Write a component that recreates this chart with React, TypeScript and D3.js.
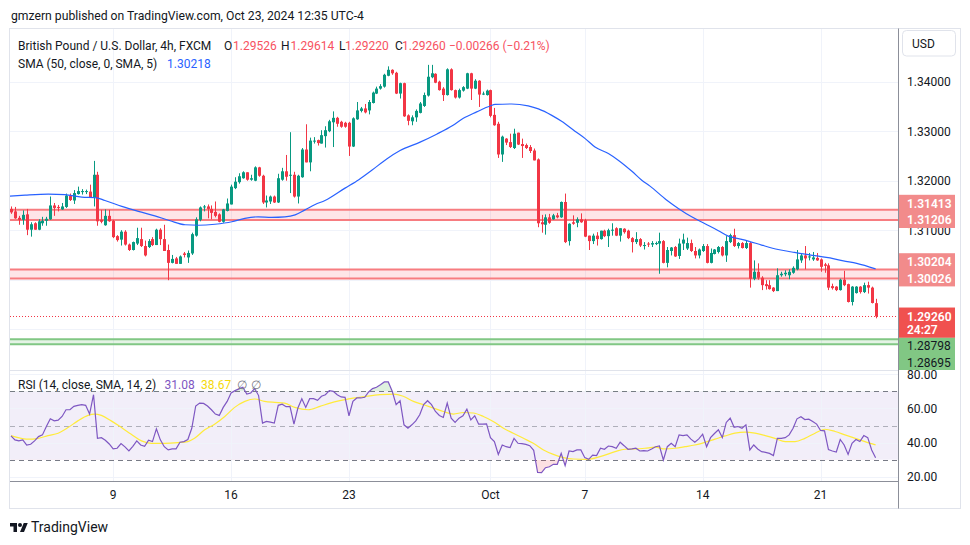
import React from "react";
import * as d3 from "d3";

// ---------- data (GBP/USD 4h, FXCM) ----------
const OPEN = [
  1.3143, 1.3138, 1.3125, 1.3121, 1.3132, 1.3101, 1.3114, 1.3101, 1.3114, 1.3119,
  1.3122, 1.3150, 1.3147, 1.3142, 1.3147, 1.3169, 1.3160, 1.3173, 1.3177, 1.3177,
  1.3178, 1.3167, 1.3212, 1.3121, 1.3110, 1.3129, 1.3119, 1.3088, 1.3081, 1.3097,
  1.3071, 1.3060, 1.3073, 1.3082, 1.3068, 1.3066, 1.3082, 1.3070, 1.3101, 1.3082,
  1.3060, 1.3034, 1.3043, 1.3032, 1.3053, 1.3045, 1.3053, 1.3089, 1.3121, 1.3146,
  1.3148, 1.3143, 1.3137, 1.3132, 1.3117, 1.3139, 1.3152, 1.3185, 1.3197, 1.3205,
  1.3217, 1.3202, 1.3200, 1.3227, 1.3210, 1.3156, 1.3158, 1.3168, 1.3156, 1.3202,
  1.3219, 1.3211, 1.3212, 1.3168, 1.3207, 1.3263, 1.3237, 1.3279, 1.3282, 1.3275,
  1.3290, 1.3300, 1.3318, 1.3327, 1.3319, 1.3317, 1.3317, 1.3269, 1.3324, 1.3341,
  1.3346, 1.3342, 1.3357, 1.3376, 1.3386, 1.3390, 1.3412, 1.3424, 1.3418, 1.3376,
  1.3397, 1.3332, 1.3320, 1.3328, 1.3337, 1.3351, 1.3372, 1.3409, 1.3416, 1.3400,
  1.3386, 1.3373, 1.3425, 1.3383, 1.3368, 1.3382, 1.3386, 1.3417, 1.3386, 1.3402,
  1.3374, 1.3373, 1.3383, 1.3333, 1.3315, 1.3253, 1.3285, 1.3278, 1.3266, 1.3297,
  1.3274, 1.3272, 1.3268, 1.3261, 1.3243, 1.3116, 1.3111, 1.3126, 1.3122, 1.3130,
  1.3126, 1.3157, 1.3078, 1.3116, 1.3115, 1.3122, 1.3120, 1.3089, 1.3078, 1.3089,
  1.3082, 1.3099, 1.3088, 1.3100, 1.3104, 1.3089, 1.3103, 1.3099, 1.3084, 1.3076,
  1.3082, 1.3068, 1.3073, 1.3071, 1.3072, 1.3073, 1.3078, 1.3034, 1.3058, 1.3066,
  1.3048, 1.3073, 1.3063, 1.3074, 1.3058, 1.3049, 1.3058, 1.3068, 1.3034, 1.3052,
  1.3056, 1.3066, 1.3049, 1.3076, 1.3090, 1.3068, 1.3074, 1.3064, 1.3074, 1.3002,
  1.3016, 1.3004, 1.2991, 1.2989, 1.2984, 1.2977, 1.3009, 1.3011, 1.3009, 1.3014,
  1.3021, 1.3039, 1.3049, 1.3045, 1.3041, 1.3044, 1.3041, 1.3031, 1.3029, 1.2987,
  1.2986, 1.2979, 1.3000, 1.2991, 1.2955, 1.2973, 1.2986, 1.2975, 1.2989, 1.2984, 1.29526,
];
const HIGH = [
  1.3148, 1.3147, 1.3129, 1.3140, 1.3143, 1.3116, 1.3116, 1.3122, 1.3127, 1.3127,
  1.3168, 1.3155, 1.3151, 1.3155, 1.3174, 1.3174, 1.3181, 1.3188, 1.3183, 1.3182,
  1.3192, 1.3240, 1.3218, 1.3141, 1.3142, 1.3141, 1.3121, 1.3090, 1.3100, 1.3100,
  1.3073, 1.3077, 1.3105, 1.3105, 1.3079, 1.3082, 1.3086, 1.3103, 1.3104, 1.3111,
  1.3071, 1.3050, 1.3046, 1.3049, 1.3056, 1.3059, 1.3095, 1.3126, 1.3148, 1.3151,
  1.3152, 1.3150, 1.3158, 1.3134, 1.3143, 1.3164, 1.3192, 1.3207, 1.3215, 1.3219,
  1.3217, 1.3212, 1.3229, 1.3228, 1.3212, 1.3170, 1.3170, 1.3170, 1.3214, 1.3226,
  1.3252, 1.3298, 1.3218, 1.3212, 1.3266, 1.3314, 1.3287, 1.3288, 1.3283, 1.3302,
  1.3310, 1.3323, 1.3340, 1.3329, 1.3321, 1.3319, 1.3319, 1.3328, 1.3359, 1.3349,
  1.3355, 1.3363, 1.3380, 1.3390, 1.3395, 1.3416, 1.3431, 1.3425, 1.3420, 1.3398,
  1.3398, 1.3334, 1.3332, 1.3344, 1.3359, 1.3378, 1.3434, 1.3434, 1.3417, 1.3402,
  1.3389, 1.3427, 1.3427, 1.3384, 1.3386, 1.3391, 1.3418, 1.3418, 1.3405, 1.3403,
  1.3380, 1.3384, 1.3384, 1.3347, 1.3319, 1.3291, 1.3286, 1.3295, 1.3305, 1.3297,
  1.3285, 1.3275, 1.3272, 1.3265, 1.3245, 1.3131, 1.3132, 1.3133, 1.3133, 1.3135,
  1.3158, 1.3174, 1.3114, 1.3130, 1.3126, 1.3134, 1.3123, 1.3089, 1.3093, 1.3096,
  1.3099, 1.3101, 1.3103, 1.3114, 1.3106, 1.3104, 1.3104, 1.3101, 1.3086, 1.3096,
  1.3084, 1.3076, 1.3076, 1.3078, 1.3077, 1.3095, 1.3080, 1.3066, 1.3066, 1.3068,
  1.3083, 1.3093, 1.3085, 1.3081, 1.3066, 1.3063, 1.3072, 1.3072, 1.3063, 1.3062,
  1.3068, 1.3068, 1.3088, 1.3093, 1.3103, 1.3076, 1.3076, 1.3080, 1.3076, 1.3039,
  1.3033, 1.3007, 1.2999, 1.2999, 1.2985, 1.3023, 1.3016, 1.3019, 1.3021, 1.3027,
  1.3060, 1.3054, 1.3068, 1.3054, 1.3056, 1.3054, 1.3043, 1.3034, 1.3033, 1.2992,
  1.2987, 1.3002, 1.3018, 1.2992, 1.2987, 1.2987, 1.2987, 1.2994, 1.2996, 1.2986, 1.29614,
];
const LOW = [
  1.3133, 1.3123, 1.3111, 1.3111, 1.3090, 1.3087, 1.3101, 1.3100, 1.3109, 1.3109,
  1.3121, 1.3129, 1.3138, 1.3141, 1.3145, 1.3159, 1.3153, 1.3172, 1.3172, 1.3173,
  1.3166, 1.3148, 1.3109, 1.3114, 1.3109, 1.3117, 1.3084, 1.3077, 1.3069, 1.3069,
  1.3058, 1.3059, 1.3070, 1.3066, 1.3047, 1.3064, 1.3068, 1.3070, 1.3070, 1.3058,
  1.2999, 1.3033, 1.3032, 1.3032, 1.3045, 1.3034, 1.3050, 1.3087, 1.3118, 1.3138,
  1.3124, 1.3122, 1.3126, 1.3116, 1.3115, 1.3138, 1.3152, 1.3183, 1.3194, 1.3204,
  1.3200, 1.3200, 1.3199, 1.3208, 1.3153, 1.3146, 1.3153, 1.3155, 1.3155, 1.3200,
  1.3200, 1.3175, 1.3166, 1.3154, 1.3206, 1.3237, 1.3219, 1.3275, 1.3271, 1.3275,
  1.3267, 1.3298, 1.3268, 1.3309, 1.3307, 1.3307, 1.3250, 1.3268, 1.3323, 1.3338,
  1.3336, 1.3334, 1.3356, 1.3375, 1.3384, 1.3388, 1.3411, 1.3414, 1.3375, 1.3366,
  1.3329, 1.3312, 1.3312, 1.3319, 1.3336, 1.3349, 1.3370, 1.3407, 1.3397, 1.3382,
  1.3361, 1.3372, 1.3382, 1.3366, 1.3366, 1.3380, 1.3385, 1.3363, 1.3385, 1.3349,
  1.3373, 1.3372, 1.3328, 1.3311, 1.3246, 1.3238, 1.3272, 1.3266, 1.3264, 1.3272,
  1.3246, 1.3264, 1.3256, 1.3241, 1.3106, 1.3095, 1.3091, 1.3113, 1.3121, 1.3124,
  1.3125, 1.3074, 1.3069, 1.3111, 1.3106, 1.3115, 1.3086, 1.3060, 1.3072, 1.3069,
  1.3081, 1.3086, 1.3066, 1.3089, 1.3088, 1.3077, 1.3093, 1.3082, 1.3055, 1.3072,
  1.3066, 1.3061, 1.3066, 1.3066, 1.3070, 1.3012, 1.3033, 1.3025, 1.3049, 1.3046,
  1.3042, 1.3060, 1.3060, 1.3056, 1.3043, 1.3043, 1.3056, 1.3033, 1.3033, 1.3051,
  1.3053, 1.3047, 1.3036, 1.3074, 1.3066, 1.3063, 1.3063, 1.3062, 1.2984, 1.2999,
  1.3000, 1.2979, 1.2980, 1.2980, 1.2975, 1.2977, 1.3006, 1.3007, 1.3001, 1.3012,
  1.3019, 1.3034, 1.3021, 1.3039, 1.3038, 1.3038, 1.3016, 1.3014, 1.2979, 1.2980,
  1.2977, 1.2978, 1.2987, 1.2954, 1.2948, 1.2972, 1.2972, 1.2973, 1.2972, 1.2952, 1.29220,
];
const CLOSE = [
  1.3136, 1.3124, 1.3121, 1.3131, 1.3101, 1.3112, 1.3101, 1.3118, 1.3119, 1.3123,
  1.3150, 1.3145, 1.3145, 1.3148, 1.3170, 1.3161, 1.3175, 1.3179, 1.3179, 1.3179,
  1.3167, 1.3212, 1.3118, 1.3117, 1.3129, 1.3118, 1.3086, 1.3080, 1.3097, 1.3071,
  1.3060, 1.3076, 1.3084, 1.3068, 1.3049, 1.3078, 1.3070, 1.3101, 1.3082, 1.3058,
  1.3034, 1.3042, 1.3032, 1.3047, 1.3050, 1.3054, 1.3092, 1.3122, 1.3146, 1.3148,
  1.3143, 1.3135, 1.3129, 1.3117, 1.3142, 1.3154, 1.3188, 1.3198, 1.3209, 1.3217,
  1.3202, 1.3205, 1.3227, 1.3210, 1.3156, 1.3160, 1.3168, 1.3156, 1.3205, 1.3219,
  1.3208, 1.3212, 1.3168, 1.3210, 1.3263, 1.3237, 1.3281, 1.3281, 1.3276, 1.3292,
  1.3302, 1.3320, 1.3327, 1.3315, 1.3309, 1.3309, 1.3269, 1.3326, 1.3342, 1.3346,
  1.3338, 1.3359, 1.3378, 1.3386, 1.3391, 1.3414, 1.3424, 1.3417, 1.3376, 1.3397,
  1.3330, 1.3321, 1.3328, 1.3341, 1.3356, 1.3373, 1.3410, 1.3417, 1.3398, 1.3383,
  1.3373, 1.3425, 1.3383, 1.3368, 1.3383, 1.3389, 1.3417, 1.3386, 1.3402, 1.3374,
  1.3376, 1.3382, 1.3331, 1.3312, 1.3253, 1.3289, 1.3277, 1.3268, 1.3295, 1.3273,
  1.3270, 1.3266, 1.3260, 1.3241, 1.3114, 1.3112, 1.3126, 1.3115, 1.3130, 1.3126,
  1.3157, 1.3076, 1.3113, 1.3113, 1.3122, 1.3116, 1.3087, 1.3078, 1.3089, 1.3082,
  1.3099, 1.3088, 1.3100, 1.3101, 1.3089, 1.3104, 1.3096, 1.3084, 1.3076, 1.3082,
  1.3069, 1.3070, 1.3071, 1.3074, 1.3074, 1.3078, 1.3034, 1.3060, 1.3065, 1.3047,
  1.3073, 1.3081, 1.3074, 1.3058, 1.3049, 1.3061, 1.3068, 1.3034, 1.3054, 1.3061,
  1.3066, 1.3049, 1.3078, 1.3090, 1.3068, 1.3074, 1.3064, 1.3074, 1.3002, 1.3016,
  1.3004, 1.2989, 1.2987, 1.2981, 1.2977, 1.3009, 1.3012, 1.3014, 1.3016, 1.3024,
  1.3041, 1.3049, 1.3043, 1.3047, 1.3045, 1.3039, 1.3026, 1.3028, 1.2984, 1.2983,
  1.2979, 1.3000, 1.2989, 1.2955, 1.2986, 1.2986, 1.2975, 1.2989, 1.2984, 1.2953, 1.29260,
];

// RSI(14) per bar
const RSI = [
  43.9, 41.6, 41.0, 41.6, 38.6, 39.0, 41.0, 43.5, 44.5, 49.4,
  53.9, 52.7, 53.1, 55.3, 59.2, 59.2, 61.2, 61.8, 62.2, 61.8,
  56.7, 68.0, 42.5, 42.9, 41.4, 39.2, 36.3, 36.7, 39.4, 37.5,
  35.1, 37.8, 41.0, 38.6, 37.8, 41.4, 40.6, 48.0, 41.6, 37.6,
  35.7, 36.3, 36.3, 40.2, 40.6, 41.8, 48.4, 61.4, 63.1, 62.9,
  61.4, 59.2, 56.7, 55.9, 60.6, 64.1, 69.0, 70.4, 71.4, 72.4,
  68.4, 69.0, 71.6, 67.5, 51.4, 52.4, 52.0, 51.4, 61.8, 62.5,
  61.0, 61.0, 50.8, 60.2, 65.7, 60.6, 65.7, 65.7, 64.7, 67.1,
  68.0, 70.4, 70.0, 68.0, 66.7, 66.5, 55.7, 64.1, 66.1, 66.1,
  66.5, 69.6, 71.6, 72.4, 73.9, 75.5, 75.5, 70.0, 62.2, 64.5,
  50.4, 48.4, 50.4, 52.7, 56.3, 62.2, 64.5, 62.2, 58.2, 55.9,
  54.7, 63.1, 54.3, 51.8, 54.3, 55.7, 59.6, 53.3, 55.7, 50.8,
  50.8, 51.0, 42.9, 40.6, 33.1, 38.6, 37.6, 37.1, 42.5, 39.6,
  39.4, 39.0, 38.2, 35.5, 22.5, 22.4, 25.3, 25.9, 27.3, 27.3,
  33.7, 26.5, 35.1, 34.7, 35.7, 35.7, 31.2, 30.2, 32.7, 32.4,
  36.7, 36.1, 38.0, 37.6, 36.7, 40.2, 38.2, 36.1, 36.3, 36.7,
  35.1, 35.3, 35.1, 36.3, 37.6, 38.0, 29.8, 37.6, 39.6, 37.6,
  44.5, 44.1, 44.5, 42.0, 40.2, 42.2, 44.9, 37.6, 42.9, 45.3,
  47.5, 42.9, 51.8, 54.3, 49.0, 49.4, 48.4, 50.4, 35.7, 38.6,
  36.3, 34.7, 34.3, 33.7, 32.4, 42.5, 42.5, 42.9, 44.5, 48.4,
  53.9, 55.1, 53.5, 53.7, 52.4, 50.8, 47.1, 46.9, 35.9, 35.1,
  34.5, 41.8, 38.6, 33.1, 39.6, 41.8, 40.6, 44.1, 42.9, 35.7, 31.08,
];

// SMA(50) of close, read as points (bar number, price)
const SMA50_BAR = [
  0.7, 4.6, 10.5, 14.7, 19, 22.4, 24.9, 29.2, 33.4, 37.6,
  41.5, 45.3, 48.7, 52.9, 57.2, 60.5, 63.9, 67.3, 70.7, 73.3,
  75.8, 78.4, 80.9, 86, 89.5, 92.8, 96.6, 100, 105.1, 109.3,
  113.5, 116.1, 119.5, 122.9, 124.2, 128.4, 132.6, 135.2, 138.6, 141.1,
  144.5, 147.1, 149.6, 153, 155.6, 159, 161.5, 163.6, 167.8, 170.8,
  174.2, 177.6, 181, 183.5, 186.1, 188.6, 192, 196.2, 199.7, 202.6,
  206, 209.4, 212.8, 216.2, 221,
];
const SMA50_VAL = [
  1.3169, 1.3171, 1.3173, 1.3172, 1.3167, 1.3166, 1.3160, 1.3148, 1.3138, 1.3129,
  1.3119, 1.3111, 1.3110, 1.3112, 1.3117, 1.3124, 1.3127, 1.3126, 1.3127, 1.3131,
  1.3141, 1.3152, 1.3160, 1.3185, 1.3202, 1.3221, 1.3244, 1.3261, 1.3278, 1.3294,
  1.3312, 1.3326, 1.3339, 1.3351, 1.3354, 1.3355, 1.3351, 1.3345, 1.3332, 1.3320,
  1.3300, 1.3285, 1.3268, 1.3255, 1.3241, 1.3219, 1.3201, 1.3189, 1.3161, 1.3144,
  1.3127, 1.3113, 1.3099, 1.3088, 1.3083, 1.3078, 1.3070, 1.3061, 1.3056, 1.3052,
  1.3048, 1.3044, 1.3038, 1.3033, 1.30218,
];

// SMA(14) of RSI, read as points (bar number, value)
const RSI_SMA_BAR = [
  1, 2.8, 5.3, 7.9, 10.4, 13, 15.5, 18, 20.6, 22.3,
  24, 26.5, 29.1, 31.6, 34.2, 36.7, 40.1, 43.5, 46, 47.7,
  50.3, 52.8, 55.4, 57.9, 60.5, 63, 65.5, 68.1, 70.6, 73.2,
  76.6, 79.6, 82.2, 84.7, 87.3, 91.5, 94.9, 98.3, 100.8, 103.4,
  105.9, 108.5, 111, 113.6, 116.1, 118.6, 121.2, 123.7, 126.3, 128.8,
  131.4, 133.9, 136.5, 139, 141.6, 144.1, 147.5, 150.9, 154.7, 157.2,
  159.8, 162.3, 164.9, 167.4, 170, 172.5, 175, 177.6, 180.1, 182.7,
  185.2, 187.8, 190.3, 192.9, 195.4, 198, 200.5, 203, 205.6, 208.1,
  210.7, 213.2, 215.8, 218.3, 221,
];
const RSI_SMA_VAL = [
  44.1, 42.9, 42.0, 42.5, 44.1, 45.5, 48.8, 52.7, 55.9, 56.7,
  55.9, 52.7, 48.8, 44.9, 41.0, 39.6, 39.6, 40.0, 40.6, 42.5,
  47.5, 50.8, 55.3, 60.6, 64.1, 65.5, 64.1, 63.5, 63.1, 60.6,
  59.2, 61.2, 63.1, 64.5, 65.7, 67.1, 68.0, 68.4, 67.1, 64.1,
  62.2, 60.2, 58.2, 56.7, 57.6, 57.3, 55.3, 52.4, 48.4, 45.5,
  42.5, 39.6, 35.7, 33.1, 31.2, 30.4, 30.2, 31.8, 34.7, 36.1,
  36.3, 36.7, 37.3, 36.3, 36.7, 37.6, 38.6, 40.2, 42.0, 43.9,
  45.5, 46.1, 45.5, 44.1, 42.5, 40.6, 40.6, 42.5, 45.5, 47.8,
  46.5, 44.5, 42.5, 40.6, 38.67,
];

// time axis (bar number of the first bar of each labelled day)
const DAY_LABELS = ["9", "16", "23", "Oct", "7", "14", "21"];
const DAY_BARS = [27, 57, 87, 123, 147, 177, 207];

const PRICE_TICKS = [1.34, 1.33, 1.32, 1.31, 1.3, 1.29];
const RSI_TICKS = [80, 60, 40, 20];
const RSI_LEVELS = [70, 50, 30];

// drawn zones
const RES_TOP = [1.31413, 1.30204];
const RES_BOTTOM = [1.31206, 1.30026];
const SUP_TOP = [1.28798];
const SUP_BOTTOM = [1.28695];

const LAST_PRICE = 1.2926;
const COUNTDOWN = "24:27";

const FONT = "Roboto, 'Liberation Sans', Arial, sans-serif";
const UP = "#089981";
const DOWN = "#f23645";
const TEXT = "#131722";

export default function App() {
  const L = 10;
  const R = 898;
  const TOP = 29;
  const MAIN_B = 370;
  const RSI_T = 371;
  const RSI_B = 481;

  const x = d3.scaleLinear().domain([1, 221]).range([11, 875.6]);
  const y = d3.scaleLinear().domain([1.28, 1.35]).range([378.7, 32.2]);
  const ry = d3.scaleLinear().domain([20, 80]).range([476.8, 374.2]);

  const bars = d3.range(OPEN.length);

  const smaPath = d3
    .line<number>()
    .x((i) => x(SMA50_BAR[i]))
    .y((i) => y(SMA50_VAL[i]))
    .curve(d3.curveMonotoneX)(d3.range(SMA50_BAR.length)) || "";

  const rsiPath = d3
    .line<number>()
    .x((i) => x(i + 1))
    .y((i) => ry(RSI[i]))(bars) || "";

  const rsiSmaPath = d3
    .line<number>()
    .x((i) => x(RSI_SMA_BAR[i]))
    .y((i) => ry(RSI_SMA_VAL[i]))
    .curve(d3.curveMonotoneX)(d3.range(RSI_SMA_BAR.length)) || "";

  const overArea = d3
    .area<number>()
    .x((i) => x(i + 1))
    .y0(ry(70))
    .y1((i) => ry(RSI[i]))(bars) || "";
  const underArea = d3
    .area<number>()
    .x((i) => x(i + 1))
    .y0(ry(30))
    .y1((i) => ry(RSI[i]))(bars) || "";

  // right-axis label layout
  const resLabels = RES_BOTTOM.map((b, k) => {
    const c1 = y(b);
    const c0 = c1 - 16.6;
    return { c0, c1, top: RES_TOP[k], bottom: b, boxTop: c0 - 8.6, boxBot: c1 + 8 };
  });
  const pc0 = y(LAST_PRICE);
  const pc1 = pc0 + 13.5;
  const pBoxTop = pc0 - 8.8;
  const pBoxBot = pc1 + 8;
  const gc0 = pBoxBot + 8.3;
  const gc1 = gc0 + 16.4;

  const boxes = [
    ...resLabels.map((r) => [r.boxTop, r.boxBot]),
    [pBoxTop, pBoxBot],
    [pBoxBot, MAIN_B],
  ];
  const visibleTicks = PRICE_TICKS.filter((p) => {
    const c = y(p);
    return !boxes.some(([a, b]) => c > a && c < b);
  });

  const fmt = (v: number) => v.toFixed(5);

  return (
    <svg
      width={970}
      height={545}
      viewBox="0 0 970 545"
      style={{ position: "absolute", left: 0, top: 0, background: "#ffffff" }}
      fontFamily={FONT}
    >
      <defs>
        <clipPath id="mainClip">
          <rect x={L} y={TOP} width={R - L} height={MAIN_B - TOP} />
        </clipPath>
        <clipPath id="rsiClip">
          <rect x={L} y={RSI_T} width={R - L} height={RSI_B - RSI_T} />
        </clipPath>
        <clipPath id="overClip">
          <rect x={L} y={RSI_T} width={R - L} height={ry(70) - RSI_T} />
        </clipPath>
        <clipPath id="underClip">
          <rect x={L} y={ry(30)} width={R - L} height={RSI_B - ry(30)} />
        </clipPath>
        <clipPath id="axisClip">
          <rect x={R} y={TOP} width={62} height={MAIN_B - TOP} />
        </clipPath>
      </defs>

      <rect x={0} y={0} width={970} height={545} fill="#ffffff" />

      {/* header */}
      <text x={11} y={19.5} fontSize={12.2} fill={TEXT}>
        gmzern published on TradingView.com, Oct 23, 2024 12:35 UTC-4
      </text>

      {/* frame */}
      <rect x={9.5} y={28.5} width={951} height={480} fill="none" stroke="#e0e3eb" />

      {/* ---------- main pane ---------- */}
      <g clipPath="url(#mainClip)">
        {PRICE_TICKS.map((p) => (
          <line key={"pg" + p} x1={L} x2={R} y1={Math.round(y(p)) + 0.5} y2={Math.round(y(p)) + 0.5} stroke="#f0f3fa" />
        ))}
        {DAY_BARS.map((b) => (
          <line key={"vg" + b} x1={Math.round(x(b)) + 0.5} x2={Math.round(x(b)) + 0.5} y1={TOP} y2={MAIN_B} stroke="#f0f3fa" />
        ))}

        {/* resistance zones */}
        {RES_TOP.map((t, k) => (
          <g key={"rz" + k}>
            <rect x={L} y={y(t)} width={R - L} height={y(RES_BOTTOM[k]) - y(t)} fill="rgba(247,82,95,0.15)" />
            <line x1={L} x2={R} y1={y(t)} y2={y(t)} stroke="#f77c80" strokeWidth={2} />
            <line x1={L} x2={R} y1={y(RES_BOTTOM[k])} y2={y(RES_BOTTOM[k])} stroke="#f77c80" strokeWidth={2} />
          </g>
        ))}
        {/* support zone */}
        {SUP_TOP.map((t, k) => (
          <g key={"sz" + k}>
            <rect x={L} y={y(t)} width={R - L} height={y(SUP_BOTTOM[k]) - y(t)} fill="rgba(76,175,80,0.15)" />
            <line x1={L} x2={R} y1={y(t)} y2={y(t)} stroke="#81c784" strokeWidth={2} />
            <line x1={L} x2={R} y1={y(SUP_BOTTOM[k])} y2={y(SUP_BOTTOM[k])} stroke="#81c784" strokeWidth={2} />
          </g>
        ))}

        {/* last price line */}
        <line
          x1={L}
          x2={R}
          y1={Math.round(y(LAST_PRICE)) + 0.5}
          y2={Math.round(y(LAST_PRICE)) + 0.5}
          stroke={DOWN}
          strokeDasharray="1 2"
        />

        {/* candles */}
        {bars.map((i) => {
          const o = OPEN[i];
          const c = CLOSE[i];
          const col = c >= o ? UP : DOWN;
          const cx = Math.round(x(i + 1));
          const top = y(Math.max(o, c));
          const bot = y(Math.min(o, c));
          return (
            <g key={"c" + i}>
              <line x1={cx + 0.5} x2={cx + 0.5} y1={y(HIGH[i])} y2={y(LOW[i])} stroke={col} strokeWidth={1} />
              <rect x={cx - 1} y={top} width={3} height={Math.max(1, bot - top)} fill={col} />
            </g>
          );
        })}

        {/* SMA 50 */}
        <path d={smaPath} fill="none" stroke="#2962ff" strokeWidth={1.2} />
      </g>

      {/* legend */}
      <g fontSize={12}>
        <text x={18} y={49.5} fill={TEXT}>British Pound / U.S. Dollar, 4h, FXCM</text>
        <text x={224} y={49.5} fill={TEXT}>O</text>
        <text x={233} y={49.5} fill="#f7525f">{fmt(OPEN[OPEN.length - 1])}</text>
        <text x={281} y={49.5} fill={TEXT}>H</text>
        <text x={290.5} y={49.5} fill="#f7525f">{fmt(HIGH[HIGH.length - 1])}</text>
        <text x={339} y={49.5} fill={TEXT}>L</text>
        <text x={345} y={49.5} fill="#f7525f">{fmt(LOW[LOW.length - 1])}</text>
        <text x={395} y={49.5} fill={TEXT}>C</text>
        <text x={402} y={49.5} fill="#f7525f">{fmt(CLOSE[CLOSE.length - 1])}</text>
        <text x={449} y={49.5} fill="#f7525f">−0.00266 (−0.21%)</text>
        <text x={18} y={67.5} fill={TEXT}>SMA (50, close, 0, SMA, 5)</text>
        <text x={167} y={67.5} fill="#2962ff">{fmt(SMA50_VAL[SMA50_VAL.length - 1])}</text>
      </g>

      {/* ---------- RSI pane ---------- */}
      <line x1={L} x2={R} y1={370.5} y2={370.5} stroke="#e0e3eb" />
      <g clipPath="url(#rsiClip)">
        <rect x={L} y={ry(70)} width={R - L} height={ry(30) - ry(70)} fill="rgba(126,87,194,0.1)" />
        {RSI_TICKS.map((t) => (
          <line key={"rg" + t} x1={L} x2={R} y1={Math.round(ry(t)) + 0.5} y2={Math.round(ry(t)) + 0.5} stroke="#f0f3fa" />
        ))}
        {DAY_BARS.map((b) => (
          <line key={"rvg" + b} x1={Math.round(x(b)) + 0.5} x2={Math.round(x(b)) + 0.5} y1={RSI_T} y2={RSI_B} stroke="#f0f3fa" />
        ))}
        {RSI_LEVELS.map((lv) => (
          <line
            key={"lv" + lv}
            x1={L}
            x2={R}
            y1={Math.round(ry(lv)) + 0.5}
            y2={Math.round(ry(lv)) + 0.5}
            stroke={lv === 50 ? "rgba(120,123,134,0.55)" : "#787b86"}
            strokeDasharray="5 4"
          />
        ))}
        <path d={overArea} fill="rgba(76,175,80,0.18)" clipPath="url(#overClip)" />
        <path d={underArea} fill="rgba(242,54,69,0.15)" clipPath="url(#underClip)" />
        <path d={rsiSmaPath} fill="none" stroke="#ffeb3b" strokeWidth={1.2} />
        <path d={rsiPath} fill="none" stroke="#7e57c2" strokeWidth={1.2} />
      </g>
      <g fontSize={12}>
        <text x={18} y={389} fill={TEXT}>RSI (14, close, SMA, 14, 2)</text>
        <text x={164.5} y={389} fill="#7e57c2">{RSI[RSI.length - 1].toFixed(2)}</text>
        <text x={201} y={389} fill="#f5d90a">{RSI_SMA_VAL[RSI_SMA_VAL.length - 1].toFixed(2)}</text>
        <text x={237} y={389} fill="#787b86">∅</text>
        <text x={251} y={389} fill="#787b86">∅</text>
      </g>

      {/* ---------- axes ---------- */}
      <line x1={R + 0.5} x2={R + 0.5} y1={28.5} y2={508.5} stroke="#8c8f99" />
      <line x1={L} x2={R} y1={RSI_B + 0.5} y2={RSI_B + 0.5} stroke="#8c8f99" />

      {/* price axis labels */}
      <g fontSize={12} fill={TEXT} clipPath="url(#axisClip)">
        {visibleTicks.map((p) => (
          <text key={"pl" + p} x={907} y={y(p) + 4.3}>
            {fmt(p)}
          </text>
        ))}
      </g>

      {/* USD box */}
      <rect x={902.5} y={30.5} width={53} height={25.5} rx={4} fill="#ffffff" stroke="#e0e3eb" />
      <text x={912} y={48} fontSize={12} fill={TEXT}>USD</text>

      {/* zone labels */}
      {resLabels.map((lb, k) => (
        <g key={"rl" + k}>
          <rect x={899} y={lb.boxTop} width={56} height={lb.boxBot - lb.boxTop} fill="#f28b8b" />
          <text x={907} y={lb.c0 + 4.3} fontSize={12} fill="#ffffff" fontWeight={600}>
            {fmt(lb.top)}
          </text>
          <text x={907} y={lb.c1 + 4.3} fontSize={12} fill="#ffffff" fontWeight={600}>
            {fmt(lb.bottom)}
          </text>
        </g>
      ))}

      {/* last price label */}
      <rect x={899} y={pBoxTop} width={56} height={pBoxBot - pBoxTop} fill="#f0514f" />
      <text x={907} y={pc0 + 4.3} fontSize={12} fill="#ffffff" fontWeight={600}>
        {fmt(LAST_PRICE)}
      </text>
      <text x={907} y={pc1 + 4.3} fontSize={12} fill="#ffffff" fontWeight={600}>
        {COUNTDOWN}
      </text>

      {/* support labels */}
      <g clipPath="url(#axisClip)">
        <rect x={899} y={pBoxBot} width={56} height={gc1 - gc0 + 17} fill="#81c784" />
        <text x={907} y={gc0 + 4.3} fontSize={12} fill={TEXT}>
          {fmt(SUP_TOP[0])}
        </text>
        <text x={907} y={gc1 + 4.3} fontSize={12} fill={TEXT}>
          {fmt(SUP_BOTTOM[0])}
        </text>
      </g>

      {/* RSI axis labels */}
      <g fontSize={12} fill={TEXT}>
        {RSI_TICKS.map((t) => (
          <text key={"rl" + t} x={907} y={ry(t) + 4.3 + (t === 80 ? 0.8 : 0)}>
            {t.toFixed(2)}
          </text>
        ))}
      </g>

      {/* time axis labels */}
      <g fontSize={12} fill={TEXT} textAnchor="middle">
        {DAY_BARS.map((b, k) => (
          <text key={"tl" + b} x={x(b)} y={498.5}>
            {DAY_LABELS[k]}
          </text>
        ))}
      </g>

      {/* TradingView logo */}
      <g transform="translate(10,521) scale(0.5)" fill={TEXT}>
        <path d="M14 22H7V11H0V4h14v18zM28 22h-8l7.5-18h8L28 22z" />
        <circle cx={20} cy={8} r={4} />
      </g>
      <text x={31} y={532} fontSize={14} fill={TEXT}>TradingView</text>
    </svg>
  );
}
